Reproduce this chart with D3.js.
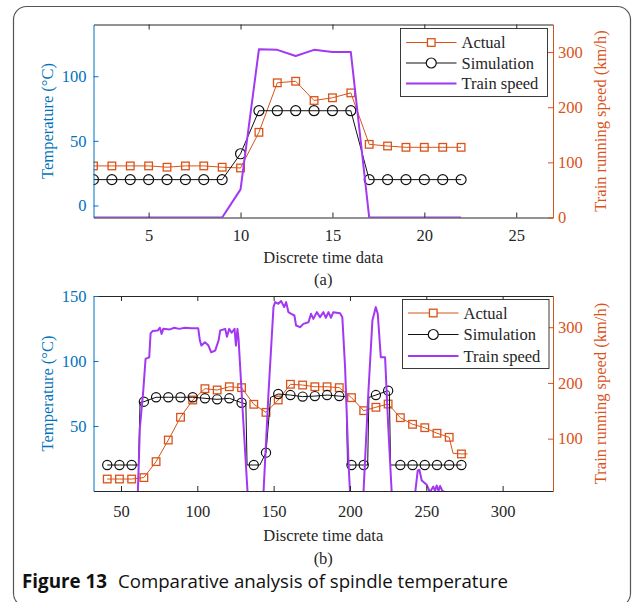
<!DOCTYPE html>
<html lang="en">
<head>
<meta charset="UTF-8">
<title>Comparative analysis of spindle temperature</title>
<script src="https://d3js.org/d3.v7.min.js"></script>
<style>
  body { margin: 0; background: #fff; }
</style>
</head>
<body>
<svg id="fig" width="637" height="602"></svg>
<script>
// ---- panel (a) ----
const timeA = [2, 3, 4, 5, 6, 7, 8, 9, 10, 11, 12, 13, 14, 15, 16, 17, 18, 19, 20, 21, 22];
const actualA = [30.6, 30.6, 30.6, 30.6, 29.6, 30.6, 30.6, 29.6, 29, 56.6, 94.9, 96.1, 81.2, 83.3, 87.1, 47.3, 46, 45, 45, 45, 45];
const simA = [20, 20, 20, 20, 20, 20, 20, 20, 40, 73.3, 73.3, 73.3, 73.3, 73.3, 73.3, 20, 20, 20, 20, 20, 20];
const speedA = [0, 0, 0, 0, 0, 0, 0, 0, 51, 305, 304, 293, 304, 300, 300, 0, 0, 0, 0, 0, 0];
const xTicksA = [5, 10, 15, 20, 25];
const leftTicksA = [0, 50, 100];
const rightTicksA = [0, 100, 200, 300];

// ---- panel (b) ----
const timeB = [41, 49, 57, 65, 73, 81, 89, 97, 105, 113, 121, 129, 137, 145, 153,
               161, 169, 177, 185, 193, 201, 209, 217, 225, 233, 241, 249, 257, 265, 273];
const actualB = [9.2, 9.2, 9.2, 10.3, 22.6, 39.2, 56.7, 70, 78.7, 77.7, 80.2, 79.5, 66.7, 60.5, 70,
                 82.1, 81.5, 80.2, 80.2, 79.5, 71.8, 61.8, 64.4, 66.9, 56.4, 51.3, 48.7, 44.4, 41.3, 28.5];
const simB = [20, 20, 20, 68.7, 72.1, 72.1, 72.1, 72.1, 71.3, 70.5, 71.3, 67.9, 20, 29.5, 74.6,
              73.8, 72.6, 73, 73.8, 73, 20, 20, 73.8, 77.2, 20, 20, 20, 20, 20, 20];
// line vertices between markers (steps and tail), [time, °C]
const actualExtraB = [[267.5, 29], [277, 28.5]];
const simExtraB = [[61.5, 20], [62.5, 68.2], [131.8, 67], [132.6, 20], [141, 20], [148, 72],
                   [197.6, 72.5], [198.4, 20], [211.6, 20], [212.4, 72], [225.8, 76], [226.6, 20]];
// train speed trace, [time, km/h]
const speedB = [[41, 0], [61, 0], [62.4, 120], [64.6, 186], [66.1, 243], [68.5, 246], [69.4, 289], [70.7, 293],
  [74, 294], [75.5, 299], [76.6, 288], [77.7, 297], [82, 296], [85, 299], [88, 297], [92, 299], [96, 298],
  [100.6, 298], [101.7, 276], [102.7, 267], [105, 273], [107.3, 267], [109.1, 255], [111.7, 258], [113.9, 276],
  [115, 294], [118.3, 297], [119.4, 283], [120.9, 297], [122.5, 290], [124.4, 297], [125.3, 267], [126.3, 297],
  [127, 280], [130.2, 128], [133, 0], [143.3, 0], [146.6, 180], [149.9, 336], [151, 345], [153.1, 342],
  [154.9, 347], [156.9, 336], [158.2, 345], [159.7, 327], [161.5, 324], [163.6, 321], [164.7, 303], [167.3, 300],
  [169.5, 306], [172.8, 309], [174.5, 324], [176, 315], [178.3, 327], [180.4, 318], [182.6, 327], [184.2, 317],
  [185.9, 327], [187.6, 317], [189.1, 327], [193.5, 325], [195, 318], [196.8, 228], [199, 60], [200.1, 0],
  [208.8, 0], [212, 180], [214.7, 312], [216.9, 336], [218.2, 324], [220.2, 246], [223, 246], [225.1, 120],
  [227.4, 0], [242.6, 0], [244.4, 43], [245.5, 44], [247, 25], [250.3, 17], [252.4, 4], [254.6, 14],
  [255.7, 6], [256.8, 16], [258, 6], [259, 15], [260.5, 6], [263.3, 3]];
const xTicksB = [50, 100, 150, 200, 250, 300];
const leftTicksB = [50, 100, 150];
const rightTicksB = [100, 200, 300];

const seriesNames = ["Actual", "Simulation", "Train speed"];

const blue = "#0072BD";
const orange = "#D95319";
const purple = "#A238F2";
const dark = "#262626";
const serif = "'Liberation Serif', 'Times New Roman', 'DejaVu Serif', serif";
const sans = "'Open Sans', 'Noto Sans', sans-serif";

const svg = d3.select("#fig").attr("font-family", serif);

// outer frame
svg.append("rect")
   .attr("x", 13.5).attr("y", 6.5)
   .attr("width", 617).attr("height", 600)
   .attr("rx", 13)
   .attr("fill", "none")
   .attr("stroke", "#555").attr("stroke-width", 1.2);

function pairs(xs, ys, extra) {
  return xs.map((t, i) => [t, ys[i]]).concat(extra).sort((a, b) => a[0] - b[0]);
}

function drawPanel(cfg) {
  const b = cfg.box;
  const g = svg.append("g");
  const x = d3.scaleLinear().domain(cfg.xDomain).range([b.left, b.right]);
  const yL = d3.scaleLinear().domain(cfg.leftDomain).range([b.bottom, b.top]);
  const yR = d3.scaleLinear().domain(cfg.rightDomain).range([b.bottom, b.top]);

  g.append("clipPath").attr("id", cfg.id)
   .append("rect")
   .attr("x", b.left).attr("y", b.top)
   .attr("width", b.right - b.left).attr("height", b.bottom - b.top);

  const plot = g.append("g").attr("clip-path", `url(#${cfg.id})`);
  const lineL = d3.line().x(d => x(d[0])).y(d => yL(d[1]));
  const lineR = d3.line().x(d => x(d[0])).y(d => yR(d[1]));

  // actual
  plot.append("path")
      .attr("d", lineL(pairs(cfg.time, cfg.actual, cfg.actualExtra)))
      .attr("fill", "none").attr("stroke", orange).attr("stroke-width", 1);
  plot.selectAll(".sq").data(cfg.time).enter().append("rect")
      .attr("x", (d, i) => x(d) - 3.8).attr("y", (d, i) => yL(cfg.actual[i]) - 3.8)
      .attr("width", 7.6).attr("height", 7.6)
      .attr("fill", "none").attr("stroke", orange).attr("stroke-width", 1.3);

  // simulation
  plot.append("path")
      .attr("d", lineL(pairs(cfg.time, cfg.sim, cfg.simExtra)))
      .attr("fill", "none").attr("stroke", "#111").attr("stroke-width", 1);
  plot.selectAll(".ci").data(cfg.time).enter().append("circle")
      .attr("cx", d => x(d)).attr("cy", (d, i) => yL(cfg.sim[i]))
      .attr("r", cfg.circleR)
      .attr("fill", "none").attr("stroke", "#111").attr("stroke-width", 1.2);

  // train speed
  plot.append("path")
      .attr("d", lineR(cfg.speed))
      .attr("fill", "none").attr("stroke", purple).attr("stroke-width", 2)
      .attr("stroke-linejoin", "round");

  // axes
  const styleAxis = (a, color) => {
    a.attr("font-family", serif).attr("font-size", 16.5);
    a.select(".domain").attr("stroke", color);
    a.selectAll(".tick line").attr("stroke", color);
    a.selectAll(".tick text").attr("fill", color);
  };
  g.append("g").attr("transform", `translate(0,${b.bottom})`)
   .call(d3.axisBottom(x).tickValues(cfg.xTicks).tickSizeInner(-5).tickSizeOuter(0).tickPadding(cfg.xPad))
   .call(a => styleAxis(a, dark));
  g.append("g").attr("transform", `translate(0,${b.top})`)
   .call(d3.axisTop(x).tickValues(cfg.xTicks).tickSizeInner(-5).tickSizeOuter(0).tickFormat(""))
   .call(a => styleAxis(a, dark));
  g.append("g").attr("transform", `translate(${b.left},0)`)
   .call(d3.axisLeft(yL).tickValues(cfg.leftTicks).tickSizeInner(-5).tickSizeOuter(0).tickPadding(7))
   .call(a => styleAxis(a, blue));
  g.append("g").attr("transform", `translate(${b.right},0)`)
   .call(d3.axisRight(yR).tickValues(cfg.rightTicks).tickSizeInner(-5).tickSizeOuter(0).tickPadding(5))
   .call(a => styleAxis(a, orange));

  // axis titles
  const midX = (b.left + b.right) / 2;
  const midY = (b.top + b.bottom) / 2;
  g.append("text").attr("x", midX).attr("y", cfg.xLabelY)
   .attr("text-anchor", "middle").attr("dominant-baseline", "central")
   .attr("font-size", 16.5).attr("fill", dark).text("Discrete time data");
  g.append("text").attr("x", midX).attr("y", cfg.tagY)
   .attr("text-anchor", "middle").attr("dominant-baseline", "central")
   .attr("font-size", 16.5).attr("fill", dark).text(cfg.tag);
  g.append("text")
   .attr("transform", `translate(47,${midY}) rotate(-90)`)
   .attr("text-anchor", "middle").attr("dominant-baseline", "central")
   .attr("font-size", 16.5).attr("fill", blue).text("Temperature (°C)");
  g.append("text")
   .attr("transform", `translate(600,${midY}) rotate(-90)`)
   .attr("text-anchor", "middle").attr("dominant-baseline", "central")
   .attr("font-size", 16.5).attr("fill", orange).text("Train running speed (km/h)");

  // legend
  const lg = cfg.legend;
  g.append("rect").attr("x", lg.x).attr("y", lg.y).attr("width", lg.w).attr("height", lg.h)
   .attr("fill", "#fff").attr("stroke", dark).attr("stroke-width", 0.9);
  const colors = [orange, "#111", purple];
  seriesNames.forEach((name, i) => {
    const yy = lg.y + lg.first + i * lg.step;
    const x0 = lg.x + 5.5, x1 = lg.x + 56;
    g.append("line").attr("x1", x0).attr("x2", x1).attr("y1", yy).attr("y2", yy)
     .attr("stroke", colors[i]).attr("stroke-width", i === 2 ? 2 : 1);
    const xm = (x0 + x1) / 2;
    if (i === 0) {
      g.append("rect").attr("x", xm - 3.8).attr("y", yy - 3.8).attr("width", 7.6).attr("height", 7.6)
       .attr("fill", "#fff").attr("stroke", orange).attr("stroke-width", 1.3);
    } else if (i === 1) {
      g.append("circle").attr("cx", xm).attr("cy", yy).attr("r", 5)
       .attr("fill", "#fff").attr("stroke", "#111").attr("stroke-width", 1.2);
    }
    g.append("text").attr("x", lg.x + 61).attr("y", yy)
     .attr("dominant-baseline", "central").attr("font-size", 16.5).attr("fill", dark).text(name);
  });
}

drawPanel({
  id: "clipA",
  box: { left: 93.5, right: 553, top: 24.5, bottom: 217.5 },
  xDomain: [2, 27], leftDomain: [-9.3, 140], rightDomain: [0, 350],
  xTicks: xTicksA, leftTicks: leftTicksA, rightTicks: rightTicksA,
  time: timeA, actual: actualA, sim: simA, actualExtra: [], simExtra: [],
  speed: timeA.map((t, i) => [t, speedA[i]]),
  circleR: 5, xPad: 12, xLabelY: 257, tagY: 279, tag: "(a)",
  legend: { x: 400.5, y: 28.5, w: 147, h: 68, first: 14, step: 20.5 }
});

drawPanel({
  id: "clipB",
  box: { left: 93.5, right: 553, top: 296, bottom: 491 },
  xDomain: [32, 333], leftDomain: [0, 150], rightDomain: [6, 356],
  xTicks: xTicksB, leftTicks: leftTicksB, rightTicks: rightTicksB,
  time: timeB, actual: actualB, sim: simB, actualExtra: actualExtraB, simExtra: simExtraB,
  speed: speedB,
  circleR: 4.6, xPad: 14, xLabelY: 535.5, tagY: 558, tag: "(b)",
  legend: { x: 402.5, y: 299.5, w: 146.5, h: 69, first: 13.5, step: 21.5 }
});

// caption
svg.append("text").attr("x", 22).attr("y", 588)
   .attr("font-family", sans).attr("font-size", 19).attr("font-weight", "bold").attr("fill", "#111")
   .attr("textLength", 85).attr("lengthAdjust", "spacingAndGlyphs")
   .text("Figure 13");
svg.append("text").attr("x", 118).attr("y", 588)
   .attr("font-family", sans).attr("font-size", 19).attr("fill", "#111")
   .attr("textLength", 390).attr("lengthAdjust", "spacingAndGlyphs")
   .text("Comparative analysis of spindle temperature");
</script>
</body>
</html>
